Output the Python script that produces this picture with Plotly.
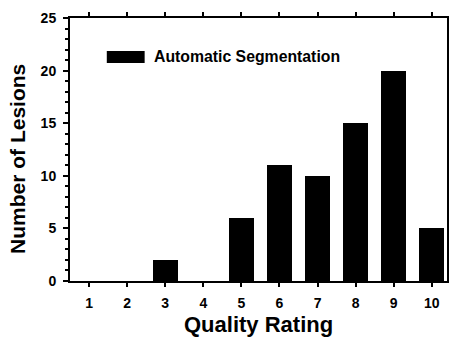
import plotly.graph_objects as go

ratings = [1, 2, 3, 4, 5, 6, 7, 8, 9, 10]
lesion_counts = [0, 0, 2, 0, 6, 11, 10, 15, 20, 5]
series_name = "Automatic Segmentation"
y_ticks = [0, 5, 10, 15, 20, 25]
x_title = "Quality Rating"
y_title = "Number of Lesions"

FONT = "Liberation Sans, Arial, Helvetica, sans-serif"

fig = go.Figure()
fig.add_trace(go.Bar(
    x=ratings, y=lesion_counts, name=series_name,
    marker=dict(color="black", line=dict(width=0)),
    width=0.65, showlegend=False,
))

# legend swatch and label
fig.add_shape(type="rect", xref="paper", yref="paper",
              x0=0.0976, x1=0.198, y0=0.829, y1=0.875,
              fillcolor="black", line=dict(width=0))
fig.add_annotation(text="<b>" + series_name + "</b>", xref="paper", yref="paper",
                   x=0.217, y=0.852, xanchor="left", yanchor="middle",
                   showarrow=False, font=dict(family=FONT, size=15.8, color="black"))

# axis titles
fig.add_annotation(text="<b>" + y_title + "</b>", xref="paper", yref="paper",
                   x=-0.14, y=0.465, xanchor="center", yanchor="middle", textangle=-90,
                   showarrow=False, font=dict(family=FONT, size=21, color="black"))
fig.add_annotation(text="<b>" + x_title + "</b>", xref="paper", yref="paper",
                   x=0.5, y=-0.167, xanchor="center", yanchor="middle",
                   showarrow=False, font=dict(family=FONT, size=22, color="black"))

fig.update_layout(
    width=454, height=339,
    margin=dict(l=70, r=5, t=18, b=58),
    paper_bgcolor="white", plot_bgcolor="white",
    font=dict(family=FONT, color="black"),
    bargap=0,
    xaxis=dict(
        range=[0.5, 10.4], tickmode="array", tickvals=ratings,
        ticktext=[f"<b>{r}</b>" for r in ratings],
        ticks="outside", ticklen=4, tickwidth=2, tickcolor="black",
        ticklabelstandoff=4,
        showline=True, linewidth=2, linecolor="black", mirror="ticks",
        showgrid=False, zeroline=False,
        tickfont=dict(family=FONT, size=14, color="black"),
    ),
    yaxis=dict(
        range=[0, 25], tickmode="array", tickvals=y_ticks,
        ticktext=[f"<b>{v}</b>" for v in y_ticks],
        ticks="outside", ticklen=5, tickwidth=2, tickcolor="black",
        ticklabelstandoff=4,
        minor=dict(dtick=1, ticks="outside", ticklen=3, tickwidth=1.5, tickcolor="black"),
        showline=True, linewidth=2, linecolor="black", mirror=True,
        showgrid=False, zeroline=False,
        tickfont=dict(family=FONT, size=14, color="black"),
    ),
)

fig.write_html("out.html")
